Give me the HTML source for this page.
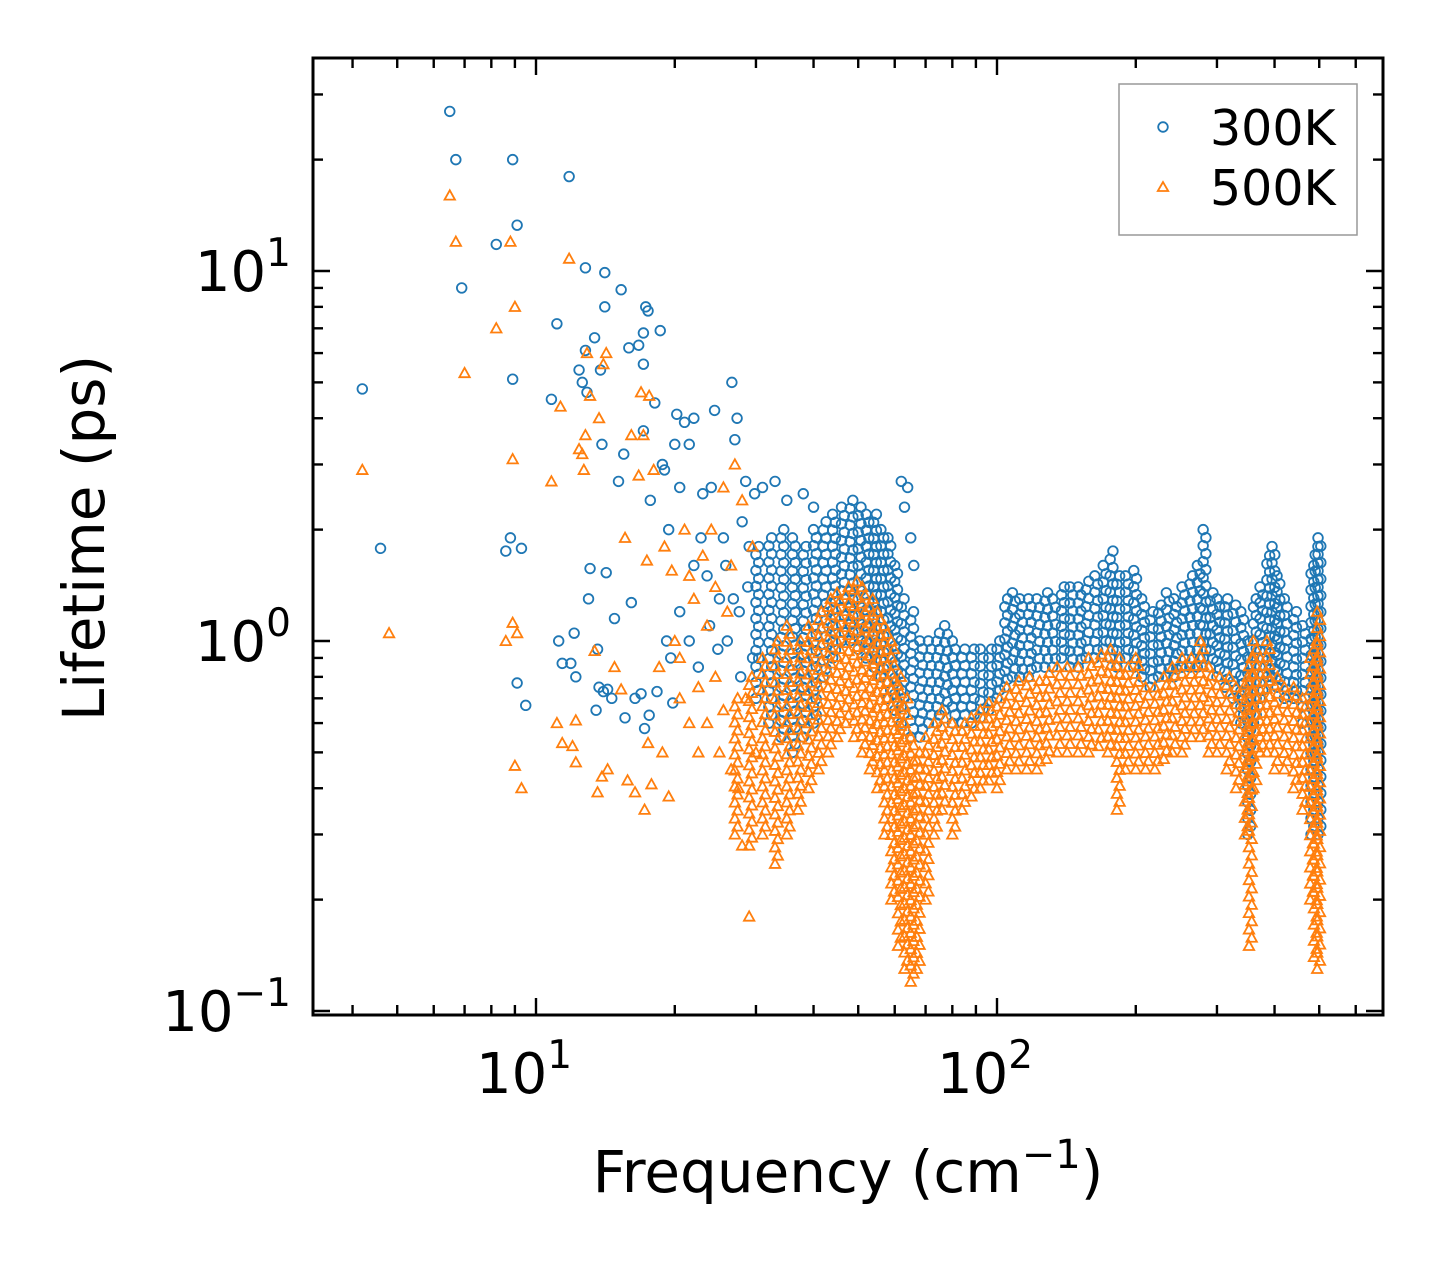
<!DOCTYPE html>
<html><head><meta charset="utf-8"><style>
body{margin:0;background:#fff;}
svg text{font-family:"DejaVu Sans","Liberation Sans",sans-serif;fill:#000;}
</style></head><body>
<svg id="chart" width="1442" height="1265" xmlns="http://www.w3.org/2000/svg">
<rect width="1442" height="1265" fill="#fff"/>
<g id="marks"></g>
<g id="axes"></g>
</svg>
<script>
// ---- data ----
const xTickValues = [10, 100];
const xTickLabels = ["1", "2"];
const yTickValues = [0.1, 1, 10];
const yTickLabels = ["\u22121", "0", "1"];
const seriesNames = ["300K", "500K"];
// sparse points [frequency, lifetime]
const blueSparse = [[4.2,4.8],[4.6,1.78],[6.5,27],[6.7,20],[6.9,9],[8.2,11.8],[8.6,1.75],[8.8,1.9],[8.9,20],[8.9,5.1],[9.1,13.3],[9.1,0.77],[9.3,1.78],[9.5,0.67],[10.8,4.5],[11.1,7.2],[11.2,1.0],[11.4,0.87],[11.8,18],[11.9,0.87],[12.1,1.05],[12.2,0.8],[12.4,5.4],[12.6,5.0],[12.8,10.2],[12.8,6.1],[12.9,4.7],[13.0,1.3],[13.1,1.57],[13.4,6.6],[13.5,0.65],[13.6,0.95],[13.7,0.75],[13.8,5.4],[13.9,3.4],[14.0,0.73],[14.1,9.9],[14.1,8.0],[14.2,1.53],[14.3,0.74],[14.6,0.7],[14.8,1.15],[15.1,2.7],[15.3,8.9],[15.5,3.2],[15.6,0.62],[15.9,6.2],[16.1,1.27],[16.4,0.7],[16.7,6.3],[16.9,0.72],[17.1,6.8],[17.1,5.6],[17.1,3.7],[17.2,0.58],[17.3,8.0],[17.5,7.8],[17.6,0.63],[17.7,2.4],[18.1,4.4],[18.3,0.73],[18.6,6.9],[18.8,3.0],[19.0,2.9],[19.2,1.0],[19.4,2.0],[19.6,0.9],[19.8,0.68],[20.0,3.4],[20.2,4.1],[20.5,2.6],[21,3.9],[21.5,3.4],[22,4.0],[22,1.6],[22.5,0.85],[23,2.5],[23.5,1.5],[24,2.6],[24.4,4.2],[25,1.3],[25.5,1.9],[26,1.0],[26.6,5.0],[27,3.5],[27.3,4.0],[27.6,1.2],[28,2.1],[28.5,2.7],[29,1.8],[29.5,0.9],[20.5,1.2],[21.5,1.0],[22.8,1.9],[23.8,1.1],[24.8,0.95],[25.8,1.6],[26.8,1.3],[27.8,0.8],[28.8,1.4],[29.8,2.5],[31,2.6],[33,2.7],[35,2.4],[38,2.5],[40,2.3],[62,2.7],[64,2.6],[63,2.3],[65,1.9],[66,1.6]];
// dense bands: frequency column with min / max lifetime of the point cloud
const blueFreq = [30,32,34,36,38,40,42,44,46,48,50,52,54,56,58,60,62,65,68,71,74,77,80,84,88,92,96,100,104,108,112,117,122,127,132,138,144,150,156,163,170,176,182,190,198,206,215,224,233,242,252,262,272,280,290,300,312,325,338,350,360,372,385,395,405,420,440,460,480,490,497];
const blueLo = [0.7,0.6,0.55,0.5,0.55,0.6,0.8,0.9,1.0,1.0,0.95,0.9,0.85,0.8,0.7,0.65,0.6,0.55,0.55,0.6,0.6,0.65,0.6,0.6,0.6,0.62,0.65,0.7,0.75,0.8,0.8,0.8,0.85,0.85,0.85,0.9,0.85,0.85,0.9,0.9,0.95,0.9,0.85,0.9,0.85,0.8,0.75,0.8,0.8,0.8,0.85,0.85,0.85,0.9,0.85,0.8,0.75,0.7,0.6,0.3,0.6,0.7,0.8,0.8,0.75,0.7,0.7,0.6,0.3,0.5,0.3];
const blueHi = [1.8,1.9,2.0,1.9,1.8,2.0,2.1,2.2,2.3,2.4,2.3,2.2,2.2,2.0,1.9,1.6,1.3,1.2,1.0,1.0,1.05,1.1,1.0,0.95,0.95,0.95,0.95,1.0,1.3,1.35,1.3,1.3,1.3,1.35,1.3,1.4,1.4,1.4,1.45,1.5,1.6,1.75,1.5,1.5,1.55,1.3,1.2,1.25,1.35,1.3,1.4,1.5,1.6,2.0,1.35,1.3,1.3,1.25,1.2,1.0,1.3,1.4,1.7,1.8,1.5,1.3,1.2,1.1,1.6,1.8,1.9];
const orangeSparse = [[4.2,2.9],[4.8,1.05],[6.5,16],[6.7,12],[7.0,5.3],[8.2,7],[8.6,1.0],[8.8,12],[8.9,1.12],[8.9,3.1],[9.0,8],[9.0,0.46],[9.1,1.05],[9.3,0.4],[10.8,2.7],[11.1,0.6],[11.3,4.3],[11.4,0.53],[11.8,10.8],[12.0,0.52],[12.2,0.61],[12.2,0.47],[12.4,3.3],[12.6,3.2],[12.7,2.9],[12.8,3.6],[12.9,6],[13.1,4.6],[13.4,0.94],[13.6,0.39],[13.7,4],[13.9,0.43],[14.0,5.6],[14.2,6],[14.3,0.45],[14.8,0.85],[15.3,0.74],[15.6,1.9],[15.8,0.42],[16.1,3.6],[16.4,0.39],[16.7,2.8],[16.9,4.7],[17.1,3.6],[17.2,0.35],[17.4,1.65],[17.5,0.53],[17.6,4.6],[17.8,0.41],[18,2.9],[18.5,0.85],[18.8,0.5],[19,1.8],[19.4,0.38],[19.7,1.55],[20,1.0],[20.5,0.9],[21,2.0],[21.5,0.6],[22,1.3],[22.5,0.5],[23,1.7],[23.5,1.1],[24,2.0],[24.5,0.8],[25,0.5],[25.5,2.6],[26,1.2],[26.5,0.45],[27,3.0],[27.5,0.4],[28,2.4],[28.5,0.7],[29,0.18],[29.5,1.8],[30,0.5],[20.5,0.7],[21.5,1.5],[22.5,0.75],[23.5,0.6],[24.5,1.4],[25.5,0.65],[26.5,1.6],[28,0.28]];
const orangeFreq = [27,29,31,33,35,37,39,41,43,45,47,49,51,53,55,57,59,61,63,65,67,70,73,76,80,84,88,92,96,100,105,110,116,122,128,135,142,150,158,166,174,182,190,200,210,220,230,240,252,264,276,288,300,315,330,345,352,360,372,385,400,420,440,460,478,487,495];
const orangeLo = [0.3,0.28,0.3,0.25,0.3,0.35,0.4,0.45,0.5,0.55,0.6,0.55,0.5,0.45,0.4,0.3,0.2,0.15,0.13,0.12,0.13,0.2,0.3,0.35,0.3,0.35,0.38,0.4,0.42,0.4,0.45,0.45,0.45,0.45,0.48,0.5,0.5,0.5,0.5,0.52,0.5,0.35,0.45,0.45,0.45,0.45,0.48,0.5,0.5,0.55,0.55,0.5,0.5,0.45,0.4,0.3,0.15,0.4,0.5,0.5,0.45,0.45,0.4,0.35,0.2,0.14,0.13];
const orangeHi = [0.7,0.8,0.9,1.0,1.1,1.0,1.1,1.2,1.3,1.35,1.4,1.45,1.4,1.3,1.2,1.1,1.0,0.8,0.7,0.55,0.5,0.55,0.6,0.65,0.6,0.6,0.62,0.65,0.68,0.7,0.75,0.78,0.8,0.78,0.82,0.85,0.85,0.85,0.9,0.92,0.95,0.9,0.85,0.9,0.75,0.75,0.8,0.85,0.9,0.9,1.0,0.85,0.8,0.8,0.75,0.8,0.9,1.0,0.9,1.0,0.8,0.75,0.75,0.7,0.9,1.0,1.2];

// ---- geometry ----
const L=313, R=1383, T=58, B=1015;
const xD = 461, x10 = 536;
const yD = 370, y1 = 641;
const xs = v => x10 + (Math.log10(v) - 1) * xD;
const ys = v => y1 - Math.log10(v) * yD;
const NS = "http://www.w3.org/2000/svg";
const marks = document.getElementById('marks');
const axes = document.getElementById('axes');
function mk(tag, attrs, parent){const e=document.createElementNS(NS,tag);for(const k in attrs)e.setAttribute(k,attrs[k]);parent.appendChild(e);return e;}

function circle(f, v){
  const c = mk('circle',{cx:xs(f),cy:ys(v),r:4.8,fill:'none',stroke:'#1f77b4','stroke-width':1.8},marks);
  
  
}
function tri(f, v){
  const x=xs(f), y=ys(v), s=5.2;
  const p = mk('polygon',{points:`${x},${y-s} ${x-s},${y+s*0.8} ${x+s},${y+s*0.8}`,fill:'none',stroke:'#ff7f0e','stroke-width':1.8},marks);
  
  
}
function band(freqs, lo, hi, fn){
  freqs.forEach((f,i)=>{
    const a=Math.log10(lo[i]), b=Math.log10(hi[i]);
    const n=Math.max(1,Math.round((b-a)/0.022));
    for(let k=0;k<=n;k++){
      const off = (k%2)*0.006;
      fn(f*Math.pow(10,off), Math.pow(10,a+(b-a)*k/n));
    }
  });
}
const clip = mk('clipPath',{id:'pc'},marks);
mk('rect',{x:L,y:T,width:R-L,height:B-T},clip);
marks.setAttribute('clip-path','url(#pc)');
blueSparse.forEach(p=>circle(p[0],p[1]));
band(blueFreq, blueLo, blueHi, circle);
orangeSparse.forEach(p=>tri(p[0],p[1]));
band(orangeFreq, orangeLo, orangeHi, tri);

// ---- axes ----
const frame = mk('rect',{x:L,y:T,width:R-L,height:B-T,fill:'none',stroke:'#000','stroke-width':3},axes);


function tick(x1,y1_,x2,y2,w){mk('line',{x1:x1,y1:y1_,x2:x2,y2:y2,stroke:'#000','stroke-width':w},axes);}
for(let d=0; d<=3; d++){
  for(let m=1;m<=9;m++){
    const v=m*Math.pow(10,d); const x=xs(v);
    if(x<L||x>R) continue;
    const len = m===1?17:10;
    tick(x,B,x,B-len,2.4); tick(x,T,x,T+len,2.4);
  }
}
xTickValues.forEach((v,i)=>{
  const t=mk('text',{x:xs(v)-12,y:1093,'font-size':56,'text-anchor':'middle'},axes);
  t.textContent='10';
  
  
  const s=mk('tspan',{dy:-25,'font-size':39},t); s.textContent=xTickLabels[i];
});
for(let d=-1; d<=1; d++){
  for(let m=1;m<=9;m++){
    const v=m*Math.pow(10,d); const y=ys(v);
    if(y<T||y>B+2) continue;
    const len = m===1?17:10;
    tick(L,y,L+len,y,2.4); tick(R,y,R-len,y,2.4);
  }
}
yTickValues.forEach((v,i)=>{
  const t=mk('text',{x:291,y:ys(v)+20,'font-size':56,'text-anchor':'end'},axes);
  t.textContent='10';
  
  
  const s=mk('tspan',{dy:-25,'font-size':39},t); s.textContent=yTickLabels[i];
});
const xt=mk('text',{x:848,y:1192,'font-size':58,'text-anchor':'middle'},axes);
xt.textContent='Frequency (cm';


const xs1=mk('tspan',{dy:-24,'font-size':40},xt); xs1.textContent='\u22121';
const xs2=mk('tspan',{dy:24},xt); xs2.textContent=')';
const yt=mk('text',{x:104,y:538,'font-size':58,'text-anchor':'middle',transform:'rotate(-90 104 538)'},axes);
yt.textContent='Lifetime (ps)';


const lg=mk('g',{},axes);


mk('rect',{x:1119,y:84,width:238,height:151,fill:'#fff',stroke:'#999','stroke-width':1.5},lg);
const lc=mk('circle',{cx:1163,cy:127,r:4.8,fill:'none',stroke:'#1f77b4','stroke-width':1.8},lg);


const lp=mk('polygon',{points:'1163,182 1157.8,191 1168.2,191',fill:'none',stroke:'#ff7f0e','stroke-width':1.8},lg);


[[seriesNames[0],145],[seriesNames[1],205]].forEach(([n,y])=>{
  const t=mk('text',{x:1210,y:y,'font-size':49},lg); t.textContent=n;
  
  
});
</script>
</body></html>
